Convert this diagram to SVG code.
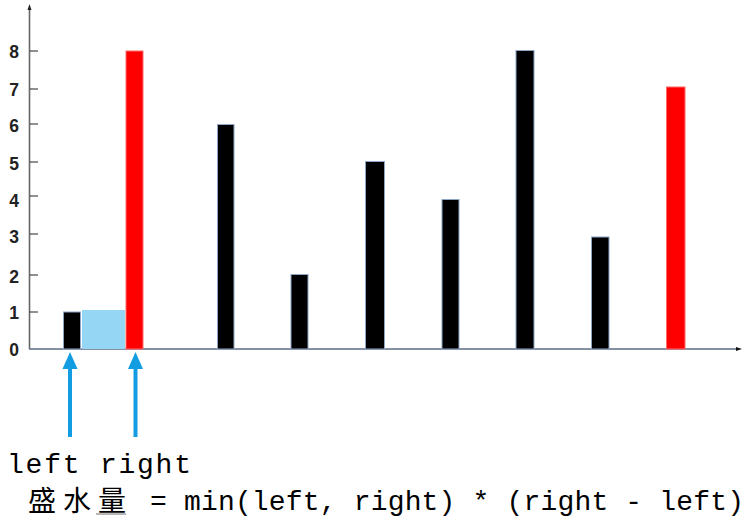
<svg xmlns="http://www.w3.org/2000/svg" width="747" height="522" viewBox="0 0 747 522">
  <style>
    .bar { fill: #000000; stroke: #8ea6c6; stroke-width: 1; }
    .red { fill: #ff0000; stroke: #ff6a6a; stroke-width: 1; }
    .water { fill: #94d6f4; }
    .tick { stroke: #222; stroke-width: 1; }
    .ylab { font-family: "Liberation Sans", Arial, sans-serif; font-weight: bold; font-size: 17.5px; fill: #222; text-anchor: middle; }
    .mono { font-family: "Liberation Mono", monospace; font-size: 28px; fill: #000; }
    .cjk { font-family: "Noto Sans CJK SC", sans-serif; font-size: 28px; fill: #000; }
    .arrow { stroke: #129de2; stroke-width: 4; fill: none; }
    .head { fill: #129de2; }
  </style>
  <rect width="747" height="522" fill="#ffffff"/>

  <g id="axes">
    <line x1="29.5" y1="8" x2="29.5" y2="349" stroke="#666" stroke-width="1.6"/>
    <polygon points="29.5,4 27.5,10 31.5,10" fill="#222"/>
    <line x1="29" y1="349" x2="738" y2="349" stroke="#5e6a86" stroke-width="1.4"/>
    <polygon points="742,349 736,347 736,351" fill="#111"/>
    <line class="tick" x1="30" y1="51" x2="38" y2="51"/>
    <line class="tick" x1="30" y1="89" x2="38" y2="89"/>
    <line class="tick" x1="30" y1="124" x2="38" y2="124"/>
    <line class="tick" x1="30" y1="162" x2="38" y2="162"/>
    <line class="tick" x1="30" y1="196" x2="38" y2="196"/>
    <line class="tick" x1="30" y1="234" x2="38" y2="234"/>
    <line class="tick" x1="30" y1="275" x2="38" y2="275"/>
    <line class="tick" x1="30" y1="312" x2="38" y2="312"/>
    <text class="ylab" x="14" y="58">8</text>
    <text class="ylab" x="14" y="96">7</text>
    <text class="ylab" x="14" y="132">6</text>
    <text class="ylab" x="14" y="170">5</text>
    <text class="ylab" x="14" y="207">4</text>
    <text class="ylab" x="14" y="243">3</text>
    <text class="ylab" x="14" y="283">2</text>
    <text class="ylab" x="14" y="319">1</text>
    <text class="ylab" x="14" y="356">0</text>
  </g>

  <g id="water"><rect class="water" x="82" y="310" width="43" height="39"/></g>
  <g id="bar1"><rect class="bar" x="63.5" y="312" width="17" height="37"/></g>
  <g id="bar2"><rect class="red" x="126" y="51" width="17" height="298"/></g>
  <g id="bar3"><rect class="bar" x="217.5" y="124.5" width="16.5" height="224.5"/></g>
  <g id="bar4"><rect class="bar" x="291" y="274.5" width="17" height="74.5"/></g>
  <g id="bar5"><rect class="bar" x="365.5" y="161.5" width="19" height="187.5"/></g>
  <g id="bar6"><rect class="bar" x="442" y="199.5" width="17" height="149.5"/></g>
  <g id="bar7"><rect class="bar" x="516" y="50.5" width="18" height="298.5"/></g>
  <g id="bar8"><rect class="bar" x="591.5" y="237" width="17.5" height="112"/></g>
  <g id="bar9"><rect class="red" x="666.5" y="87" width="18.5" height="262"/></g>

  <g id="connectors">
    <line class="arrow" x1="70" y1="437" x2="70" y2="366"/>
    <polygon class="head" points="70,352 62.5,369 77.5,369"/>
    <line class="arrow" x1="135.5" y1="437" x2="135.5" y2="366"/>
    <polygon class="head" points="135.5,352 128,369 143,369"/>
  </g>

  <g id="labels">
    <text class="mono" x="7" y="473" textLength="184" lengthAdjust="spacing">left right</text>
    <text class="cjk" x="28" y="511" textLength="98" lengthAdjust="spacing">盛水量</text>
    <line x1="96" y1="514" x2="126" y2="514" stroke="#888" stroke-width="1.2"/>
    <text class="mono" x="150" y="510" textLength="594" lengthAdjust="spacing">= min(left, right) * (right - left)</text>
  </g>
</svg>
